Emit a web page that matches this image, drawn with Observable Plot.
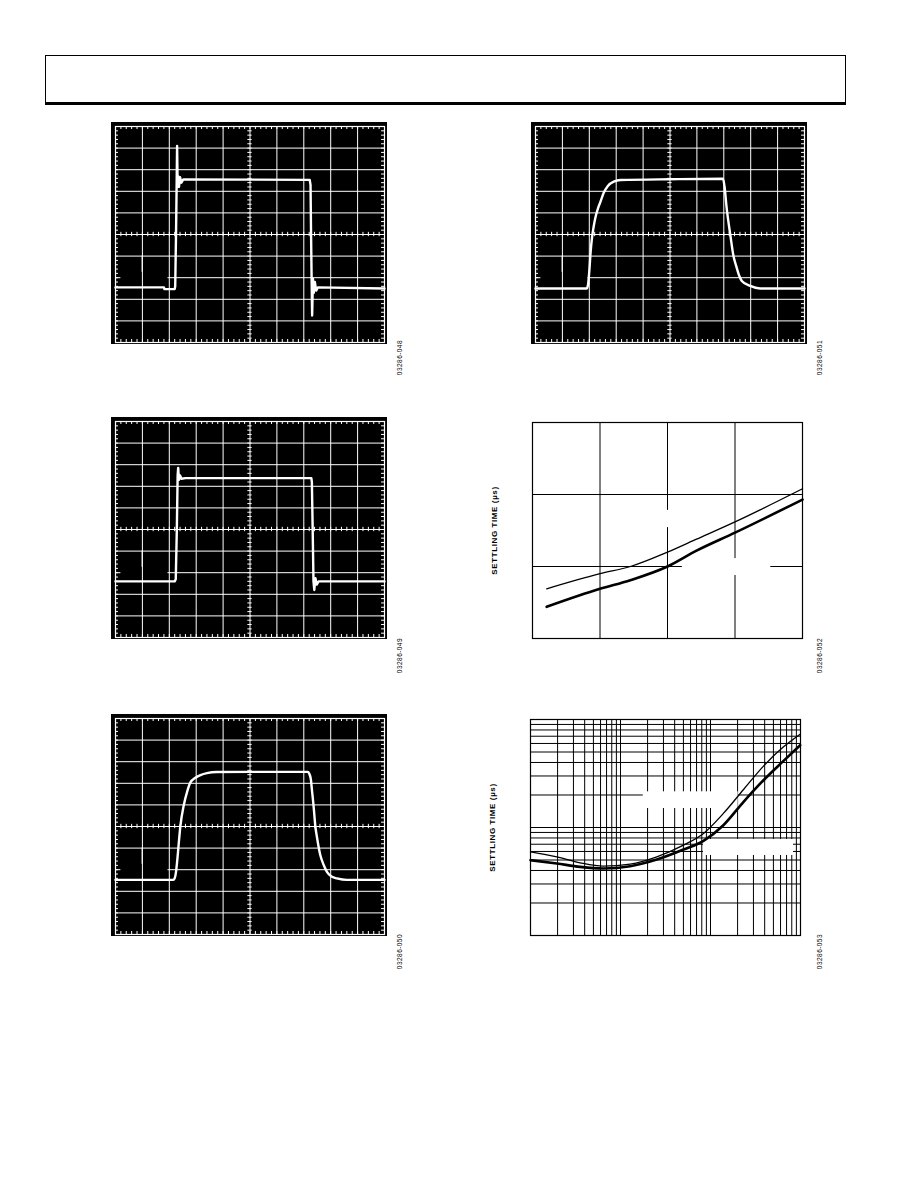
<!DOCTYPE html>
<html><head><meta charset="utf-8">
<script src="https://cdn.jsdelivr.net/npm/d3@7"></script>
<script src="https://cdn.jsdelivr.net/npm/@observablehq/plot@0.6"></script>
<style>
body{margin:0;background:#fff;}
#page{position:relative;width:918px;height:1188px;overflow:hidden;background:#fff;font-family:"Liberation Sans",Arial,sans-serif;}
.header{position:absolute;left:45px;top:55px;width:799px;height:46px;border:1px solid #000;border-bottom:3px solid #000;}
.slot{position:absolute;}
.slot svg{display:block;max-width:none;}
.fid{position:absolute;font-size:6.6px;writing-mode:vertical-rl;transform:rotate(180deg);letter-spacing:0.4px;color:#000;}
</style></head>
<body><div id="page">
<div class="header"></div>
<div class="slot" id="s048" style="left:111px;top:122px;width:276px;"></div>
<div class="slot" id="s051" style="left:531px;top:122px;width:276px;"></div>
<div class="slot" id="s049" style="left:111px;top:417px;width:276px;"></div>
<div class="slot" id="s052" style="left:480px;top:415px;width:330px;"></div>
<div class="slot" id="s050" style="left:111px;top:714px;width:276px;"></div>
<div class="slot" id="s053" style="left:470px;top:710px;width:340px;"></div>
<div class="fid" style="left:396px;top:340px;">03286-048</div>
<div class="fid" style="left:816px;top:340px;">03286-051</div>
<div class="fid" style="left:396px;top:638px;">03286-049</div>
<div class="fid" style="left:816px;top:638px;">03286-052</div>
<div class="fid" style="left:396px;top:934px;">03286-050</div>
<div class="fid" style="left:816px;top:934px;">03286-053</div>
</div>
<script>
// ---- oscilloscope graticule (divisions) ----
const divisions = [1, 2, 3, 4, 5, 6, 7, 8, 9];
const minorDiv = d3.range(1, 50).map(i => i / 5);
const markerX = [0.99];

// ---- scope traces [division x, division y] ----
const trace048 = [[0,2.55],[1.8,2.55],[1.82,2.47],[2.2,2.47],[2.22,2.6],[2.25,5.0],[2.27,7.0],[2.29,9.1],[2.31,7.2],[2.33,7.7],[2.36,7.2],[2.4,7.65],[2.45,7.4],[2.52,7.55],[7.22,7.53],[7.25,7.3],[7.27,5.0],[7.29,3.0],[7.31,1.25],[7.34,2.95],[7.37,2.3],[7.41,2.8],[7.46,2.4],[7.52,2.55],[10,2.5]];
const trace049 = [[0,2.6],[2.2,2.6],[2.24,2.7],[2.28,5.0],[2.31,7.5],[2.33,7.85],[2.36,7.3],[2.4,7.5],[2.45,7.35],[2.6,7.38],[7.28,7.38],[7.3,7.2],[7.33,5.0],[7.36,2.6],[7.39,2.2],[7.43,2.75],[7.48,2.45],[7.55,2.6],[10,2.6]];
const trace050 = [[0,2.53],[2.15,2.53],[2.2,2.6],[2.25,2.9],[2.29,3.36],[2.35,4.2],[2.41,5.0],[2.54,6.0],[2.67,6.64],[2.78,7.03],[2.97,7.26],[3.16,7.38],[3.4,7.47],[3.77,7.52],[5.0,7.53],[7.15,7.53],[7.2,7.45],[7.26,7.2],[7.31,6.6],[7.36,6.0],[7.43,5.0],[7.49,4.5],[7.61,3.69],[7.74,3.22],[7.86,2.9],[8.05,2.67],[8.23,2.6],[8.6,2.53],[10,2.53]];
const trace051 = [[0,2.5],[1.9,2.5],[1.95,2.65],[2.0,3.3],[2.05,4.2],[2.1,4.85],[2.16,5.35],[2.23,5.8],[2.32,6.2],[2.41,6.5],[2.54,6.94],[2.69,7.25],[2.91,7.45],[3.16,7.52],[5.0,7.56],[6.97,7.58],[7.03,7.2],[7.1,6.3],[7.24,5.0],[7.36,4.0],[7.46,3.55],[7.57,3.1],[7.67,2.85],[7.98,2.62],[8.35,2.5],[10,2.5]];

// ---- settling time vs (unlabelled) x, linear chart ----
const x052 = [0.21, 1.0, 1.45, 2.0, 2.43, 3.0, 4.0];
const thin052 = [0.69, 0.90, 1.0, 1.2, 1.38, 1.62, 2.08];
const thick052 = [0.44, 0.69, 0.81, 1.0, 1.22, 1.47, 1.93];
const grid052x = [1, 2, 3];
const grid052y = [1, 2];
const blanks052 = [{x1:1.7, x2:2.3, y1:1.54, y2:1.78}, {x1:2.22, x2:3.53, y1:0.875, y2:1.11}];

// ---- settling time, log-log chart ----
const x053 = [1.0, 1.96, 3.56, 6.47, 12.8, 25.3, 50.1, 83.6, 139, 233, 388, 648, 991];
const thin053 = [5.95, 5.35, 4.71, 4.38, 4.58, 5.35, 6.86, 8.80, 13.5, 22.5, 37.0, 55.8, 73.1];
const thick053 = [4.98, 4.64, 4.32, 4.17, 4.38, 5.05, 6.25, 7.53, 10.5, 17.3, 27.4, 41.4, 57.8];
const grid053x = [2,3,4,5,6,7,8,9,10,20,30,40,50,60,70,80,90,100,200,300,400,500,600,700,800,900];
const grid053y = [2,3,4,5,6,7,8,9,10,20,30,40,50,60,70,80,90];
const blanks053 = [{x1:17.9, x2:203, y1:15.0, y2:21.4}, {x1:83.6, x2:836, y1:5.51, y2:7.74}];

const yLabel = "SETTLING TIME (µs)";

function scope(trace, curve) {
  const w = "#fff";
  return Plot.plot({
    width: 276, height: 222,
    marginLeft: 4, marginRight: 3, marginTop: 4, marginBottom: 2,
    x: {domain: [0, 10], axis: null},
    y: {domain: [0, 10], axis: null},
    style: {background: "#000"},
    marks: [
      Plot.ruleX(divisions, {stroke: w, strokeWidth: 1}),
      Plot.ruleY(divisions.filter(d => d !== 3), {stroke: w, strokeWidth: 1}),
      Plot.ruleY([3], {x1: 1.95, x2: 10, stroke: w}),
      Plot.ruleY([3], {x1: 0, x2: 0.2, stroke: w}),
      Plot.ruleX(markerX, {y1: 3.25, y2: 4.0, stroke: w}),
      Plot.ruleX(minorDiv, {y1: 4.9, y2: 5.1, stroke: w}),
      Plot.ruleY(minorDiv, {x1: 4.92, x2: 5.08, stroke: w}),
      Plot.ruleX(minorDiv, {y1: 0, y2: 0.14, stroke: w}),
      Plot.ruleX(minorDiv, {y1: 9.86, y2: 10, stroke: w}),
      Plot.ruleY(minorDiv, {x1: 0, x2: 0.11, stroke: w}),
      Plot.ruleY(minorDiv, {x1: 9.89, x2: 10, stroke: w}),
      Plot.frame({stroke: w, strokeWidth: 1.2}),
      Plot.line(trace, {x: d => d[0], y: d => d[1], stroke: w, strokeWidth: 2.4, curve: curve})
    ]
  });
}

document.getElementById("s048").append(scope(trace048, "linear"));
document.getElementById("s049").append(scope(trace049, "linear"));
document.getElementById("s050").append(scope(trace050, "monotone-x"));
document.getElementById("s051").append(scope(trace051, "monotone-x"));

const rows052 = x052.map((x, i) => ({x, thin: thin052[i], thick: thick052[i]}));
document.getElementById("s052").append(Plot.plot({
  width: 330, height: 230,
  marginLeft: 52, marginRight: 8, marginTop: 7, marginBottom: 7,
  x: {domain: [0, 4], axis: null},
  y: {domain: [0, 3], axis: null},
  style: {background: "#fff", fontFamily: "'Liberation Sans', Arial, sans-serif", letterSpacing: "0.6px"},
  marks: [
    Plot.ruleX(grid052x, {stroke: "#000", strokeWidth: 1}),
    Plot.ruleY(grid052y, {stroke: "#000", strokeWidth: 1}),
    Plot.rect(blanks052, {x1: "x1", x2: "x2", y1: "y1", y2: "y2", fill: "#fff"}),
    Plot.frame({stroke: "#000", strokeWidth: 1.2}),
    Plot.line(rows052, {x: "x", y: "thin", stroke: "#000", strokeWidth: 1.3, curve: "monotone-x"}),
    Plot.line(rows052, {x: "x", y: "thick", stroke: "#000", strokeWidth: 2.6, curve: "monotone-x"}),
    Plot.text([yLabel], {frameAnchor: "left", textAnchor: "middle", rotate: -90, dx: -38, fontWeight: "bold", fontSize: 8, fill: "#000"})
  ]
}));

const rows053 = x053.map((x, i) => ({x, thin: thin053[i], thick: thick053[i]}));
document.getElementById("s053").append(Plot.plot({
  width: 340, height: 235,
  marginLeft: 60, marginRight: 10, marginTop: 9, marginBottom: 10,
  x: {type: "log", domain: [1, 1000], axis: null},
  y: {type: "log", domain: [1, 100], axis: null},
  style: {background: "#fff", fontFamily: "'Liberation Sans', Arial, sans-serif", letterSpacing: "0.6px"},
  marks: [
    Plot.ruleX(grid053x, {stroke: "#000", strokeWidth: 1}),
    Plot.ruleY(grid053y, {stroke: "#000", strokeWidth: 1}),
    Plot.rect(blanks053, {x1: "x1", x2: "x2", y1: "y1", y2: "y2", fill: "#fff"}),
    Plot.frame({stroke: "#000", strokeWidth: 1.2}),
    Plot.line(rows053, {x: "x", y: "thin", stroke: "#000", strokeWidth: 1.3, curve: "monotone-x"}),
    Plot.line(rows053, {x: "x", y: "thick", stroke: "#000", strokeWidth: 2.6, curve: "monotone-x"}),
    Plot.text([yLabel], {frameAnchor: "left", textAnchor: "middle", rotate: -90, dx: -38, fontWeight: "bold", fontSize: 8, fill: "#000"})
  ]
}));
</script>
</body></html>
